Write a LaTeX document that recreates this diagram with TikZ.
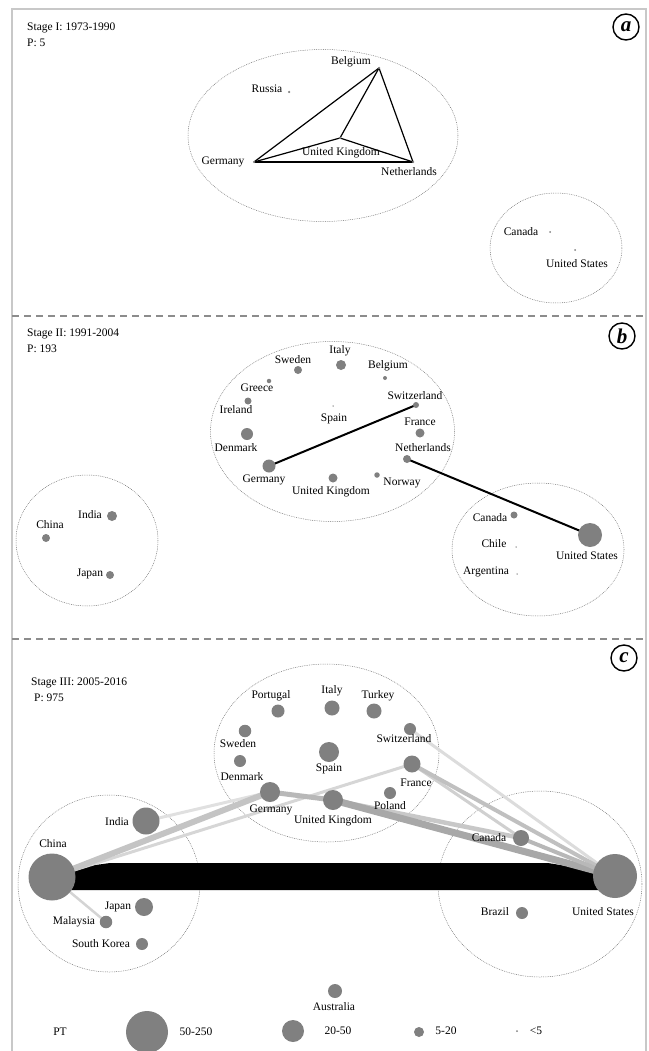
\documentclass[tikz,border=0pt]{standalone}
\usepackage{fontspec}
\setmainfont{Liberation Serif}
\usetikzlibrary{calc}
\definecolor{dotgray}{HTML}{808080}
\definecolor{framegray}{HTML}{C8C8C8}
\definecolor{sepgray}{HTML}{8C8C8C}
\definecolor{ringgray}{HTML}{707070}
\pgfdeclarelayer{edges}
\pgfdeclarelayer{rings}
\pgfsetlayers{rings,edges,main}
\tikzset{
  dot/.style={circle, fill=dotgray, draw=none, inner sep=0pt, minimum size=#1},
  lbl/.style={font=\fontsize{11.5}{13}\selectfont, inner sep=0pt, anchor=center},
  stagetxt/.style={font=\fontsize{11.5}{13}\selectfont, inner sep=0pt, anchor=west},
  ring/.style={draw=ringgray, dash pattern=on 0.8pt off 1pt, line width=0.5pt},
  tag/.style={circle, draw, line width=1.4pt, inner sep=0pt, minimum size=26pt, font=\fontsize{21}{21}\selectfont\bfseries\itshape},
  alink/.style={draw=black, line width=1.2pt},
  blink/.style={draw=black, line width=2pt},
  sep/.style={draw=sepgray, line width=1.6pt, dash pattern=on 7pt off 5pt},
}
\begin{document}
\begin{tikzpicture}[x=1pt,y=-1pt]
\useasboundingbox (0,0) rectangle (648,1051);
% frame
\draw[framegray, line width=1.2pt] (12,1051) -- (12,9) -- (646,9) -- (646,1051);
\draw[sep] (12,316) -- (646,316);
\draw[sep] (12,639) -- (646,639);

% ================= Panel a =================
\node[stagetxt] (a-title) at (27,28) {Stage I: 1973-1990};
\node[stagetxt] (a-p) at (27,43) {P: 5};
\node[tag] (a-tag) at (626,27) {a};
\begin{pgfonlayer}{rings}
\draw[ring] (323,135.5) ellipse [x radius=135, y radius=86];
\draw[ring] (556,248) ellipse [x radius=66, y radius=55];
\end{pgfonlayer}
\node[dot=2.5pt] (a-bel) at (379,68) {};
\node[dot=2.5pt] (a-rus) at (289,92) {};
\node[dot=2.5pt] (a-ger) at (254,162) {};
\node[dot=2.5pt] (a-uk) at (340,138) {};
\node[dot=2.5pt] (a-ned) at (413,162) {};
\node[dot=2pt] (a-can) at (550,232) {};
\node[dot=2pt] (a-usa) at (575,250) {};
\node[lbl] (a-bel-l) at (351,62) {Belgium};
\node[lbl] (a-rus-l) at (267,89) {Russia};
\node[lbl] (a-ger-l) at (223,162) {Germany};
\node[lbl] (a-uk-l) at (341,153) {United Kingdom};
\node[lbl] (a-ned-l) at (409,172) {Netherlands};
\node[lbl] (a-can-l) at (521,232) {Canada};
\node[lbl] (a-usa-l) at (577,264) {United States};
\begin{pgfonlayer}{edges}
\draw[alink] (a-ger.center) -- (a-bel.center);
\draw[alink] (a-bel.center) -- (a-ned.center);
\draw[alink] (a-bel.center) -- (a-uk.center);
\draw[alink] (a-ger.center) -- (a-uk.center);
\draw[alink] (a-uk.center) -- (a-ned.center);
\draw[alink] (a-ger.center) -- (a-ned.center);
\end{pgfonlayer}

% ================= Panel b =================
\node[stagetxt] (b-title) at (27,334) {Stage II: 1991-2004};
\node[stagetxt] (b-p) at (27,349) {P: 193};
\node[tag] (b-tag) at (622,336) {b};
\begin{pgfonlayer}{rings}
\draw[ring] (332.5,431.5) ellipse [x radius=122, y radius=90];
\draw[ring] (87,540.5) ellipse [x radius=71, y radius=65.5];
\draw[ring] (538,549.5) ellipse [x radius=86, y radius=66.5];
\end{pgfonlayer}
\node[dot=8pt] (b-swe) at (298,370) {};
\node[dot=10pt] (b-ita) at (341,365) {};
\node[dot=4pt] (b-bel) at (385,378) {};
\node[dot=4.5pt] (b-gre) at (269,381) {};
\node[dot=7pt] (b-irl) at (248,401) {};
\node[dot=1.5pt] (b-esp) at (333,406) {};
\node[dot=6pt] (b-sui) at (416,405) {};
\node[dot=9pt] (b-fra) at (420,433) {};
\node[dot=12pt] (b-den) at (247,434) {};
\node[dot=8pt] (b-ned) at (407,459) {};
\node[dot=13pt] (b-ger) at (269,466) {};
\node[dot=9pt] (b-uk) at (333,478) {};
\node[dot=5.5pt] (b-nor) at (377,475) {};
\node[dot=8pt] (b-chn) at (46,538) {};
\node[dot=10pt] (b-ind) at (112,516) {};
\node[dot=8pt] (b-jpn) at (110,575) {};
\node[dot=7pt] (b-can) at (514,515) {};
\node[dot=1.5pt] (b-chl) at (516,547) {};
\node[dot=1.5pt] (b-arg) at (517,574) {};
\node[dot=24pt] (b-usa) at (590,535) {};
\node[lbl] (b-swe-l) at (293,360) {Sweden};
\node[lbl] (b-ita-l) at (340,351) {Italy};
\node[lbl] (b-bel-l) at (388,366) {Belgium};
\node[lbl] (b-gre-l) at (257,388) {Greece};
\node[lbl] (b-irl-l) at (236,410) {Ireland};
\node[lbl] (b-esp-l) at (334,419) {Spain};
\node[lbl] (b-sui-l) at (415,396) {Switzerland};
\node[lbl] (b-fra-l) at (420,422) {France};
\node[lbl] (b-den-l) at (236,448) {Denmark};
\node[lbl] (b-ned-l) at (423,448) {Netherlands};
\node[lbl] (b-ger-l) at (264,480) {Germany};
\node[lbl] (b-uk-l) at (331,492) {United Kingdom};
\node[lbl] (b-nor-l) at (402,483) {Norway};
\node[lbl] (b-chn-l) at (50,525) {China};
\node[lbl] (b-ind-l) at (90,515) {India};
\node[lbl] (b-jpn-l) at (90,574) {Japan};
\node[lbl] (b-can-l) at (490,518) {Canada};
\node[lbl] (b-chl-l) at (494,544) {Chile};
\node[lbl] (b-arg-l) at (486,572) {Argentina};
\node[lbl] (b-usa-l) at (587,556) {United States};
\begin{pgfonlayer}{edges}
\draw[blink] (b-ger.center) -- (b-sui.center);
\draw[blink] (b-ned.center) -- (b-usa.center);
\end{pgfonlayer}

% ================= Panel c =================
\node[stagetxt] (c-title) at (31,683) {Stage III: 2005-2016};
\node[stagetxt] (c-p) at (34,698) {P: 975};
\node[tag] (c-tag) at (624,658) {c};
\begin{pgfonlayer}{rings}
\draw[ring] (326.5,753) ellipse [x radius=112.5, y radius=89];
\draw[ring] (109,883.5) ellipse [x radius=91, y radius=88.5];
\draw[ring] (540,884) ellipse [x radius=102, y radius=93];
\end{pgfonlayer}
\node[dot=13pt] (c-por) at (278,711) {};
\node[dot=15pt] (c-ita) at (332,708) {};
\node[dot=15pt] (c-tur) at (374,711) {};
\node[dot=12.5pt] (c-swe) at (245,731) {};
\node[dot=12pt] (c-sui) at (410,729) {};
\node[dot=20pt] (c-esp) at (329,752) {};
\node[dot=12pt] (c-den) at (240,761) {};
\node[dot=17pt] (c-fra) at (412,764) {};
\node[dot=20pt] (c-ger) at (270,792) {};
\node[dot=20pt] (c-uk) at (333,800) {};
\node[dot=12pt] (c-pol) at (390,793) {};
\node[dot=27pt] (c-ind) at (146,821) {};
\node[dot=47pt] (c-chn) at (52,877) {};
\node[dot=18pt] (c-jpn) at (144,907) {};
\node[dot=12.5pt] (c-mas) at (106,922) {};
\node[dot=12pt] (c-kor) at (142,944) {};
\node[dot=16pt] (c-can) at (521,838) {};
\node[dot=12pt] (c-bra) at (522,913) {};
\node[dot=44pt] (c-usa) at (615,876) {};
\node[dot=14pt] (c-aus) at (335,991) {};
\node[lbl] (c-por-l) at (271,696) {Portugal};
\node[lbl] (c-ita-l) at (332,691) {Italy};
\node[lbl] (c-tur-l) at (378,696) {Turkey};
\node[lbl] (c-swe-l) at (238,744) {Sweden};
\node[lbl] (c-sui-l) at (404,739) {Switzerland};
\node[lbl] (c-esp-l) at (329,769) {Spain};
\node[lbl] (c-den-l) at (242,777) {Denmark};
\node[lbl] (c-fra-l) at (416,783) {France};
\node[lbl] (c-ger-l) at (271,810) {Germany};
\node[lbl] (c-pol-l) at (390,806) {Poland};
\node[lbl] (c-uk-l) at (333,821) {United Kingdom};
\node[lbl] (c-ind-l) at (117,822) {India};
\node[lbl] (c-chn-l) at (53,844) {China};
\node[lbl] (c-jpn-l) at (118,907) {Japan};
\node[lbl] (c-mas-l) at (74,922) {Malaysia};
\node[lbl] (c-kor-l) at (101,944) {South Korea};
\node[lbl] (c-can-l) at (489,838) {Canada};
\node[lbl] (c-bra-l) at (495,912) {Brazil};
\node[lbl] (c-usa-l) at (603,912) {United States};
\node[lbl] (c-aus-l) at (334,1007) {Australia};
\begin{pgfonlayer}{edges}
\fill[black] ($(c-chn.center)+(0,-6)$) -- ($(c-chn.center)+(58,-14)$)
  -- ($(c-usa.center)+(-67,-13)$) -- ($(c-usa.center)+(0,-2)$)
  -- ($(c-usa.center)+(0,14)$) -- ($(c-chn.center)+(0,13)$) -- cycle;
\draw[draw={rgb,255:red,212;green,212;blue,212}, line width=2.5pt] (c-chn.center) -- (c-mas.center);
\draw[draw={rgb,255:red,224;green,224;blue,224}, line width=3pt] (c-ind.center) -- (c-ger.center);
\draw[draw={rgb,255:red,214;green,214;blue,214}, line width=3pt] (c-chn.center) -- (c-fra.center);
\draw[draw={rgb,255:red,196;green,196;blue,196}, line width=6pt] (c-chn.center) -- (c-ger.center);
\draw[draw={rgb,255:red,184;green,184;blue,184}, line width=5pt] (c-ger.center) -- (c-uk.center);
\draw[draw={rgb,255:red,220;green,220;blue,220}, line width=3pt] (c-sui.center) -- (c-usa.center);
\draw[draw={rgb,255:red,208;green,208;blue,208}, line width=3pt] (c-fra.center) -- (c-can.center);
\draw[draw={rgb,255:red,192;green,192;blue,192}, line width=4pt] (c-fra.center) -- (c-usa.center);
\draw[draw={rgb,255:red,200;green,200;blue,200}, line width=4.5pt] (c-uk.center) -- (c-can.center);
\draw[draw={rgb,255:red,168;green,168;blue,168}, line width=7pt] (c-uk.center) -- (c-usa.center);
\draw[draw={rgb,255:red,184;green,184;blue,184}, line width=4pt] (c-can.center) -- (c-usa.center);
\end{pgfonlayer}

% ================= Legend =================
\node[lbl] (lg-pt) at (60,1032) {PT};
\node[dot=42pt] (lg-d1) at (147,1032) {};
\node[lbl] (lg-t1) at (196,1032) {50-250};
\node[dot=22pt] (lg-d2) at (293,1031) {};
\node[lbl] (lg-t2) at (338,1031) {20-50};
\node[dot=10pt] (lg-d3) at (419,1032) {};
\node[lbl] (lg-t3) at (446,1031) {5-20};
\node[dot=2pt] (lg-d4) at (517,1031) {};
\node[lbl] (lg-t4) at (536,1031) {<5};
\end{tikzpicture}
\end{document}
